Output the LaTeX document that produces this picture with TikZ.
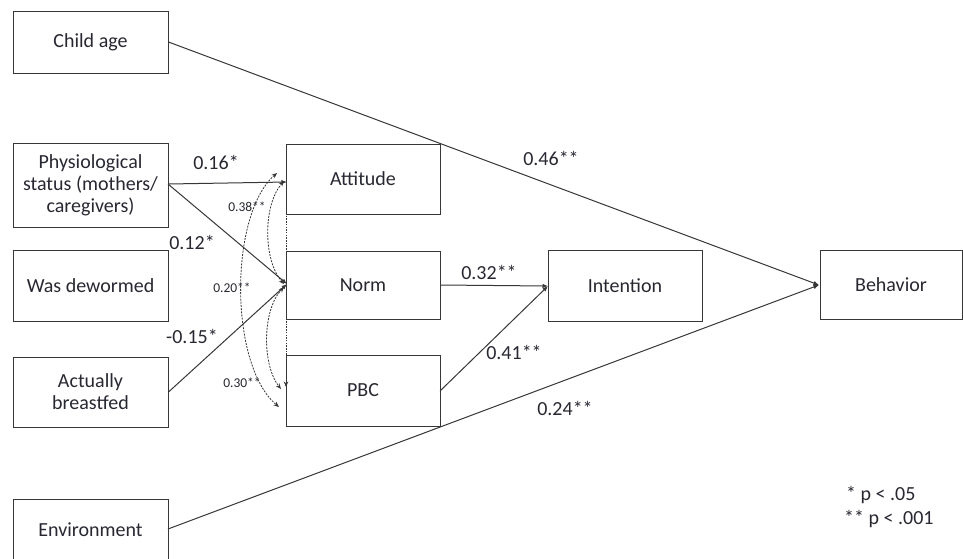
\documentclass[tikz,border=0pt]{standalone}
\usepackage{fontspec}
\setmainfont{Carlito}
\usetikzlibrary{arrows.meta}
\definecolor{txt}{RGB}{40,40,50}
\definecolor{ln}{RGB}{55,55,55}
\begin{document}
\begin{tikzpicture}[x=1pt,y=-1pt,
  box/.style={draw=ln,line width=1pt,rectangle,inner sep=0pt,align=center,text=txt,font=\fontsize{20}{22}\selectfont},
  lbl/.style={text=txt,font=\fontsize{20}{22}\selectfont,inner sep=0pt},
  slbl/.style={text=txt,font=\fontsize{13.5}{15}\selectfont,inner sep=0pt},
  path/.style={draw=ln,line width=1pt,-{Latex[length=5.5pt,width=4.5pt]}},
  corr/.style={draw=ln,line width=0.8pt,dash pattern=on 2pt off 1.2pt,{Stealth[length=5.5pt,width=4.5pt]}-{Stealth[length=5.5pt,width=4.5pt]}}
]
\useasboundingbox (0,0) rectangle (963,558);
\clip (0,0) rectangle (963,558);
\fill[white] (0,0) rectangle (963,558);

% left column
\node[box,minimum width=155pt,minimum height=62pt] (child) at (90.5,42) {Child age};
\node[box,minimum width=155pt,minimum height=84pt] (phys) at (90.5,185) {Physiological\\status (mothers/\\caregivers)};
\node[box,minimum width=155pt,minimum height=71pt] (dew) at (90.5,285.5) {Was dewormed};
\node[box,minimum width=155pt,minimum height=70pt] (breast) at (90.5,392) {Actually\\breastfed};
\node[box,minimum width=155pt,minimum height=72pt,anchor=north] (env) at (90.5,499) {};
\node[lbl] (envt) at (90.5,530) {Environment};

% middle column
\node[box,minimum width=154pt,minimum height=70pt] (att) at (363,179) {Attitude};
\node[box,minimum width=154pt,minimum height=68pt] (norm) at (363,285) {Norm};
\node[box,minimum width=154pt,minimum height=71pt] (pbc) at (363,390.5) {PBC};

\node[box,minimum width=154pt,minimum height=71pt] (int) at (625,285.5) {Intention};
\node[box,minimum width=142pt,minimum height=69pt] (beh) at (891,284.5) {Behavior};

% anchor coordinates
\coordinate (envE) at (168,529);
\coordinate (physE) at (168,184);
\coordinate (attIn) at (287,182);
\coordinate (normIn) at (287,284);
\coordinate (pbcE) at (440,391);
\coordinate (intIn) at (548,286);
\coordinate (behIn) at (819,285);

% paths
\draw[path] (child.east) -- (behIn);
\draw[path] (envE) -- (behIn);
\draw[path] (physE) -- (attIn);
\draw[path] (physE) -- (normIn);
\draw[path] (breast.east) -- (normIn);
\draw[path] (norm.east) -- (intIn);
\draw[path] (pbcE) -- (intIn);

% correlations
\coordinate (a1) at (284,181);
\coordinate (n1) at (284,284);
\coordinate (n2) at (284,287);
\coordinate (p1) at (281,389);
\coordinate (a2) at (277,173);
\coordinate (p2) at (279,407);
\coordinate (a3) at (286,186);
\coordinate (p3) at (286,387);
\draw[corr] (a1) .. controls (263,205) and (263,260) .. (n1);
\draw[corr] (n2) .. controls (262,310) and (262,365) .. (p1);
\draw[corr] (a2) .. controls (229,215) and (229,365) .. (p2);
\draw[draw=ln,line width=0.8pt,dash pattern=on 1.5pt off 1.2pt,-{Stealth[length=5.5pt,width=4.5pt]}] (a3) -- (p3);

% labels
\node[lbl] (l46) at (551,158) {0.46**};
\node[lbl] (l16) at (216,162) {0.16*};
\node[lbl] (l12) at (192,242) {0.12*};
\node[lbl] (l15) at (192,336) {-0.15*};
\node[lbl] (l32) at (489,272) {0.32**};
\node[lbl] (l41) at (514,352) {0.41**};
\node[lbl] (l24) at (565,408) {0.24**};
\node[slbl] (l38) at (247,207) {0.38**};
\node[slbl] (l20) at (232,288) {0.20**};
\node[slbl] (l30) at (242,383) {0.30**};

% legend
\node[lbl,anchor=west] (leg1) at (846,495) {* p < .05};
\node[lbl,anchor=west] (leg2) at (844,519) {** p < .001};
\end{tikzpicture}
\end{document}
